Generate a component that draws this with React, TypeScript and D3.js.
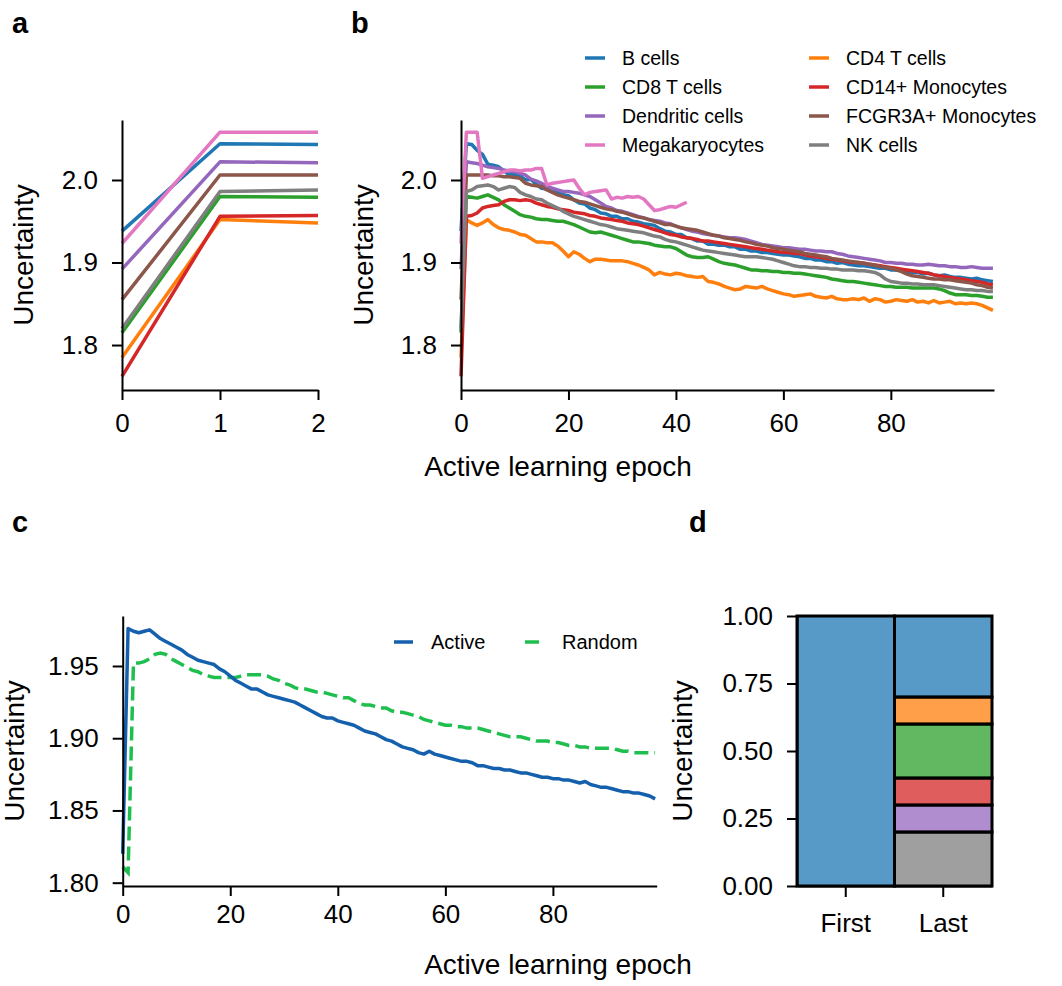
import React, { useEffect, useRef } from 'react';
import * as d3 from 'd3';

const FONT = 'Liberation Sans, Arial, Helvetica, sans-serif';

// cell types, in plotting order, with their tab10 colours
const cellTypes = ['B cells', 'CD4 T cells', 'CD8 T cells', 'CD14+ Monocytes', 'Dendritic cells', 'FCGR3A+ Monocytes', 'Megakaryocytes', 'NK cells'];
const cellColors = ['#1f77b4', '#ff7f0e', '#2ca02c', '#d62728', '#9467bd', '#8c564b', '#e377c2', '#7f7f7f'];

// uncertainty per active learning epoch (panel b; panel a shows epochs 0-2)
const bCells = [
  1.938, 2.044, 2.043, 2.036, 2.031, 2.019, 2.018, 2.016, 2.011, 2.006,
  2.007, 2.005, 2.000, 2.001, 1.995, 1.990, 1.989, 1.986, 1.985, 1.982,
  1.981, 1.976, 1.972, 1.971, 1.966, 1.964, 1.960, 1.959, 1.956, 1.956,
  1.953, 1.953, 1.950, 1.949, 1.947, 1.946, 1.945, 1.941, 1.938, 1.937,
  1.934, 1.934, 1.930, 1.929, 1.926, 1.926, 1.922, 1.922, 1.921, 1.921,
  1.919, 1.919, 1.916, 1.916, 1.914, 1.914, 1.912, 1.912, 1.911, 1.910,
  1.909, 1.909, 1.908, 1.907, 1.905, 1.905, 1.903, 1.903, 1.901, 1.901,
  1.899, 1.900, 1.898, 1.897, 1.896, 1.896, 1.895, 1.894, 1.893, 1.893,
  1.891, 1.891, 1.890, 1.889, 1.888, 1.888, 1.886, 1.887, 1.885, 1.884,
  1.885, 1.883, 1.882, 1.882, 1.881, 1.880, 1.881, 1.879, 1.878, 1.877,
];
const cd4TCells = [
  1.785, 1.952, 1.948, 1.945, 1.948, 1.952, 1.946, 1.942, 1.940, 1.939,
  1.937, 1.934, 1.933, 1.929, 1.925, 1.925, 1.924, 1.924, 1.920, 1.914,
  1.907, 1.913, 1.910, 1.905, 1.901, 1.904, 1.904, 1.903, 1.902, 1.902,
  1.902, 1.901, 1.899, 1.897, 1.894, 1.891, 1.885, 1.888, 1.886, 1.885,
  1.887, 1.886, 1.884, 1.883, 1.882, 1.883, 1.877, 1.876, 1.874, 1.871,
  1.869, 1.867, 1.868, 1.871, 1.870, 1.869, 1.871, 1.868, 1.866, 1.864,
  1.862, 1.861, 1.859, 1.860, 1.861, 1.862, 1.859, 1.858, 1.857, 1.859,
  1.856, 1.855, 1.855, 1.856, 1.855, 1.857, 1.853, 1.856, 1.855, 1.852,
  1.853, 1.855, 1.854, 1.853, 1.855, 1.852, 1.853, 1.851, 1.854, 1.851,
  1.852, 1.853, 1.850, 1.851, 1.850, 1.851, 1.850, 1.848, 1.845, 1.842,
];
const cd8TCells = [
  1.815, 1.980, 1.979, 1.978, 1.980, 1.982, 1.979, 1.976, 1.970, 1.966,
  1.962, 1.958, 1.956, 1.955, 1.953, 1.952, 1.952, 1.951, 1.950, 1.950,
  1.948, 1.946, 1.943, 1.940, 1.937, 1.936, 1.937, 1.935, 1.933, 1.931,
  1.929, 1.927, 1.925, 1.925, 1.924, 1.923, 1.921, 1.920, 1.919, 1.919,
  1.917, 1.913, 1.909, 1.907, 1.906, 1.906, 1.907, 1.904, 1.901, 1.899,
  1.898, 1.897, 1.895, 1.893, 1.891, 1.891, 1.890, 1.890, 1.889, 1.889,
  1.888, 1.888, 1.887, 1.887, 1.886, 1.885, 1.884, 1.883, 1.882, 1.880,
  1.879, 1.878, 1.877, 1.877, 1.876, 1.875, 1.874, 1.873, 1.872, 1.871,
  1.871, 1.870, 1.870, 1.870, 1.869, 1.869, 1.869, 1.869, 1.869, 1.868,
  1.866, 1.863, 1.861, 1.861, 1.861, 1.860, 1.860, 1.859, 1.858, 1.858,
];
const cd14Monocytes = [
  1.762, 1.956, 1.957, 1.960, 1.966, 1.968, 1.969, 1.970, 1.974, 1.976,
  1.976, 1.975, 1.976, 1.975, 1.972, 1.970, 1.968, 1.967, 1.965, 1.964,
  1.963, 1.961, 1.960, 1.959, 1.957, 1.956, 1.954, 1.953, 1.952, 1.951,
  1.950, 1.948, 1.947, 1.946, 1.944, 1.942, 1.940, 1.938, 1.936, 1.934,
  1.933, 1.931, 1.930, 1.929, 1.928, 1.926, 1.926, 1.925, 1.924, 1.923,
  1.922, 1.921, 1.920, 1.919, 1.918, 1.917, 1.916, 1.915, 1.914, 1.913,
  1.912, 1.912, 1.911, 1.911, 1.909, 1.908, 1.907, 1.906, 1.905, 1.904,
  1.903, 1.902, 1.901, 1.900, 1.900, 1.899, 1.898, 1.897, 1.896, 1.895,
  1.894, 1.893, 1.892, 1.891, 1.890, 1.889, 1.888, 1.887, 1.885, 1.884,
  1.883, 1.882, 1.881, 1.880, 1.879, 1.878, 1.877, 1.876, 1.874, 1.873,
];
const dendriticCells = [
  1.892, 2.022, 2.021, 2.020, 2.018, 2.016, 2.015, 2.014, 2.012, 2.011,
  2.010, 2.008, 2.006, 2.001, 1.999, 1.996, 1.992, 1.990, 1.988, 1.986,
  1.986, 1.985, 1.984, 1.982, 1.980, 1.976, 1.972, 1.968, 1.966, 1.963,
  1.962, 1.960, 1.958, 1.956, 1.954, 1.952, 1.951, 1.950, 1.948, 1.947,
  1.944, 1.942, 1.940, 1.938, 1.937, 1.935, 1.934, 1.933, 1.932, 1.931,
  1.930, 1.930, 1.929, 1.928, 1.926, 1.924, 1.922, 1.921, 1.920, 1.919,
  1.918, 1.918, 1.917, 1.916, 1.916, 1.915, 1.914, 1.914, 1.913, 1.913,
  1.911, 1.910, 1.908, 1.907, 1.906, 1.905, 1.904, 1.903, 1.902, 1.900,
  1.900, 1.899, 1.899, 1.898, 1.898, 1.897, 1.897, 1.898, 1.897, 1.896,
  1.896, 1.895, 1.895, 1.894, 1.894, 1.895, 1.894, 1.893, 1.893, 1.893,
];
const fcgr3aMonocytes = [
  1.855, 2.006, 2.006, 2.006, 2.006, 2.006, 2.005, 2.005, 2.004, 2.004,
  2.003, 2.002, 1.996, 1.994, 1.993, 1.992, 1.988, 1.985, 1.982, 1.980,
  1.978, 1.976, 1.974, 1.973, 1.971, 1.969, 1.967, 1.965, 1.964, 1.962,
  1.961, 1.959, 1.957, 1.955, 1.954, 1.952, 1.950, 1.948, 1.946, 1.946,
  1.944, 1.942, 1.941, 1.940, 1.939, 1.937, 1.935, 1.933, 1.932, 1.930,
  1.929, 1.928, 1.927, 1.925, 1.924, 1.922, 1.921, 1.920, 1.918, 1.917,
  1.916, 1.915, 1.914, 1.913, 1.911, 1.910, 1.909, 1.908, 1.907, 1.905,
  1.904, 1.903, 1.902, 1.901, 1.900, 1.899, 1.898, 1.897, 1.895, 1.894,
  1.893, 1.891, 1.889, 1.886, 1.884, 1.883, 1.882, 1.881, 1.880, 1.880,
  1.879, 1.879, 1.878, 1.877, 1.876, 1.875, 1.873, 1.872, 1.870, 1.869,
];
const megakaryocytes = [
  1.923, 2.058, 2.058, 2.058, 2.002, 2.004, 2.006, 2.008, 2.010, 2.012,
  2.012, 2.011, 2.012, 2.012, 2.014, 2.014, 1.994, 1.996, 1.997, 1.998,
  1.999, 2.000, 1.990, 1.982, 1.985, 1.986, 1.987, 1.988, 1.977, 1.979,
  1.978, 1.980, 1.979, 1.980, 1.977, 1.970, 1.963, 1.964, 1.966, 1.968,
  1.967, 1.970, 1.973,
];
const nkCells = [
  1.820, 1.986, 1.988, 1.992, 1.993, 1.994, 1.992, 1.988, 1.990, 1.992,
  1.991, 1.985, 1.982, 1.980, 1.977, 1.976, 1.972, 1.969, 1.966, 1.962,
  1.959, 1.956, 1.954, 1.952, 1.950, 1.948, 1.946, 1.945, 1.943, 1.941,
  1.940, 1.939, 1.938, 1.937, 1.936, 1.934, 1.932, 1.931, 1.928, 1.926,
  1.925, 1.923, 1.921, 1.919, 1.917, 1.915, 1.914, 1.913, 1.912, 1.911,
  1.910, 1.909, 1.908, 1.907, 1.907, 1.907, 1.906, 1.905, 1.904, 1.902,
  1.900, 1.898, 1.896, 1.895, 1.895, 1.894, 1.894, 1.893, 1.893, 1.892,
  1.892, 1.891, 1.891, 1.891, 1.890, 1.890, 1.889, 1.888, 1.885, 1.880,
  1.877, 1.876, 1.875, 1.875, 1.874, 1.874, 1.873, 1.873, 1.873, 1.872,
  1.871, 1.870, 1.869, 1.868, 1.867, 1.867, 1.866, 1.866, 1.865, 1.865,
];
const cellSeries = [bCells, cd4TCells, cd8TCells, cd14Monocytes, dendriticCells, fcgr3aMonocytes, megakaryocytes, nkCells];

// legend layout of panel b (indices into cellTypes)
const legendColumns = [[0, 2, 4, 6], [1, 3, 5, 7]];

// panel c: mean uncertainty, active vs random selection
const activeUncertainty = [
  1.820, 1.976, 1.974, 1.973, 1.974, 1.975, 1.972, 1.969, 1.967, 1.965,
  1.963, 1.961, 1.958, 1.956, 1.954, 1.953, 1.952, 1.951, 1.948, 1.946,
  1.943, 1.940, 1.938, 1.936, 1.934, 1.934, 1.932, 1.930, 1.929, 1.928,
  1.927, 1.926, 1.925, 1.923, 1.921, 1.919, 1.917, 1.915, 1.914, 1.914,
  1.912, 1.911, 1.910, 1.909, 1.907, 1.905, 1.904, 1.903, 1.901, 1.899,
  1.898, 1.896, 1.894, 1.893, 1.892, 1.890, 1.889, 1.891, 1.889, 1.888,
  1.887, 1.886, 1.885, 1.884, 1.884, 1.883, 1.881, 1.881, 1.880, 1.879,
  1.879, 1.878, 1.878, 1.877, 1.876, 1.876, 1.875, 1.874, 1.873, 1.873,
  1.872, 1.872, 1.871, 1.871, 1.870, 1.869, 1.870, 1.868, 1.867, 1.866,
  1.866, 1.865, 1.864, 1.863, 1.863, 1.862, 1.862, 1.861, 1.860, 1.858,
];
const randomUncertainty = [
  1.811, 1.807, 1.952, 1.952, 1.953, 1.955, 1.958, 1.959, 1.958, 1.955,
  1.953, 1.951, 1.949, 1.947, 1.946, 1.944, 1.943, 1.942, 1.942, 1.942,
  1.942, 1.942, 1.943, 1.944, 1.944, 1.944, 1.944, 1.943, 1.941, 1.940,
  1.938, 1.937, 1.935, 1.934, 1.934, 1.933, 1.932, 1.932, 1.931, 1.930,
  1.929, 1.928, 1.928, 1.926, 1.924, 1.923, 1.923, 1.922, 1.921, 1.921,
  1.919, 1.918, 1.918, 1.917, 1.916, 1.915, 1.913, 1.912, 1.911, 1.910,
  1.909, 1.909, 1.908, 1.908, 1.907, 1.907, 1.907, 1.906, 1.905, 1.904,
  1.903, 1.902, 1.901, 1.901, 1.901, 1.900, 1.899, 1.898, 1.898, 1.898,
  1.897, 1.897, 1.896, 1.895, 1.895, 1.894, 1.894, 1.893, 1.893, 1.893,
  1.893, 1.893, 1.892, 1.891, 1.891, 1.890, 1.890, 1.890, 1.890, 1.890,
];

// panel d: share of each cell type, first vs last epoch (bottom to top)
const stackBars = ['First', 'Last'];
const firstTypes = ['B cells'];
const firstShares = [1.0];
const lastTypes = ['NK cells', 'Dendritic cells', 'CD14+ Monocytes', 'CD8 T cells', 'CD4 T cells', 'B cells'];
const lastShares = [0.2, 0.1, 0.1, 0.2, 0.1, 0.3];

const App = () => {
    const ref = useRef(null);

    useEffect(() => {
        document.body.style.margin = '0';
        drawChart();
    }, []);

    const styleAxis = (g) => {
        g.selectAll('.domain').attr('stroke', '#000').attr('stroke-width', 2);
        g.selectAll('.tick line').attr('stroke', '#000').attr('stroke-width', 2);
        g.selectAll('.tick text')
            .attr('font-size', 26)
            .attr('font-family', FONT)
            .attr('fill', '#000');
    };

    const yLabel = (svg, x, y, text) => {
        svg.append('text')
            .attr('transform', `translate(${x},${y}) rotate(-90)`)
            .attr('text-anchor', 'middle')
            .attr('font-size', 28)
            .attr('font-family', FONT)
            .text(text);
    };

    const xLabel = (svg, x, y, text) => {
        svg.append('text')
            .attr('x', x).attr('y', y)
            .attr('text-anchor', 'middle')
            .attr('font-size', 28)
            .attr('font-family', FONT)
            .text(text);
    };

    const panelLetter = (svg, x, y, text) => {
        svg.append('text')
            .attr('x', x).attr('y', y)
            .attr('font-size', 29)
            .attr('font-weight', 'bold')
            .attr('font-family', FONT)
            .text(text);
    };

    const drawChart = () => {
        const svg = d3.select(ref.current);
        svg.selectAll('*').remove();

        // ---------- panel a ----------
        const xA = d3.scaleLinear().domain([0, 2]).range([122, 318]);
        const yA = d3.scaleLinear().domain([1.7455, 2.0727]).range([390, 120]);
        const lineA = d3.line().x((d, i) => xA(i)).y(d => yA(d));
        const gA = svg.append('g');
        cellSeries.forEach((s, k) => {
            gA.append('path')
                .attr('d', lineA(s.slice(0, 3)))
                .attr('fill', 'none')
                .attr('stroke', cellColors[k])
                .attr('stroke-width', 3.5)
                .attr('stroke-linejoin', 'round');
        });
        svg.append('g').attr('transform', 'translate(0,390)')
            .call(d3.axisBottom(xA).tickValues([0, 1, 2]).tickFormat(d3.format('d')).tickSize(10).tickSizeOuter(0).tickPadding(14))
            .call(styleAxis);
        svg.append('g').attr('transform', 'translate(122,0)')
            .call(d3.axisLeft(yA).tickValues([1.8, 1.9, 2.0]).tickFormat(d3.format('.1f')).tickSize(10).tickSizeOuter(0).tickPadding(14))
            .call(styleAxis);
        yLabel(svg, 33, 255, 'Uncertainty');
        panelLetter(svg, 12, 33, 'a');

        // ---------- panel b ----------
        const xB = d3.scaleLinear().domain([0, 99.2]).range([461, 994]);
        const yB = d3.scaleLinear().domain([1.7455, 2.0727]).range([390, 120]);
        const lineB = d3.line().x((d, i) => xB(i)).y(d => yB(d));
        const gB = svg.append('g');
        cellSeries.forEach((s, k) => {
            gB.append('path')
                .attr('d', lineB(s))
                .attr('fill', 'none')
                .attr('stroke', cellColors[k])
                .attr('stroke-width', 3.5)
                .attr('stroke-linejoin', 'round');
        });
        svg.append('g').attr('transform', 'translate(0,390)')
            .call(d3.axisBottom(xB).tickValues([0, 20, 40, 60, 80]).tickSize(10).tickSizeOuter(0).tickPadding(14))
            .call(styleAxis);
        svg.append('g').attr('transform', 'translate(461,0)')
            .call(d3.axisLeft(yB).tickValues([1.8, 1.9, 2.0]).tickFormat(d3.format('.1f')).tickSize(10).tickSizeOuter(0).tickPadding(14))
            .call(styleAxis);
        yLabel(svg, 373, 255, 'Uncertainty');
        xLabel(svg, 558, 476, 'Active learning epoch');
        panelLetter(svg, 351, 33, 'b');

        const legB = svg.append('g');
        legendColumns.forEach((col, c) => {
            col.forEach((k, r) => {
                const x0 = c === 0 ? 585 : 809;
                const y0 = 58 + r * 29;
                legB.append('line')
                    .attr('x1', x0).attr('x2', x0 + 20)
                    .attr('y1', y0).attr('y2', y0)
                    .attr('stroke', cellColors[k]).attr('stroke-width', 3.5);
                legB.append('text')
                    .attr('x', x0 + 37).attr('y', y0).attr('dy', '0.35em')
                    .attr('font-size', 19.5).attr('font-family', FONT)
                    .text(cellTypes[k]);
            });
        });

        // ---------- panel c ----------
        const xC = d3.scaleLinear().domain([0, 99.3]).range([122.7, 656.7]);
        const yC = d3.scaleLinear().domain([1.7977, 1.9846]).range([886, 616]);
        const lineC = d3.line().x((d, i) => xC(i)).y(d => yC(d));
        svg.append('path')
            .attr('d', lineC(randomUncertainty))
            .attr('fill', 'none').attr('stroke', '#1fbf4f').attr('stroke-width', 3.5)
            .attr('stroke-dasharray', '14,6');
        svg.append('path')
            .attr('d', lineC(activeUncertainty))
            .attr('fill', 'none').attr('stroke', '#1560ad').attr('stroke-width', 3.5)
            .attr('stroke-linejoin', 'round');
        svg.append('g').attr('transform', 'translate(0,886)')
            .call(d3.axisBottom(xC).tickValues([0, 20, 40, 60, 80]).tickSize(10).tickSizeOuter(0).tickPadding(9))
            .call(styleAxis);
        svg.append('g').attr('transform', 'translate(122.7,0)')
            .call(d3.axisLeft(yC).tickValues([1.8, 1.85, 1.9, 1.95]).tickFormat(d3.format('.2f')).tickSize(10).tickSizeOuter(0).tickPadding(14))
            .call(styleAxis);
        yLabel(svg, 24, 751, 'Uncertainty');
        xLabel(svg, 558, 974, 'Active learning epoch');
        panelLetter(svg, 12, 532, 'c');

        const legC = [
            { label: 'Active', color: '#1560ad', dash: null, x: 394 },
            { label: 'Random', color: '#1fbf4f', dash: '14,6', x: 525 },
        ];
        legC.forEach(l => {
            svg.append('line')
                .attr('x1', l.x).attr('x2', l.x + 19)
                .attr('y1', 642).attr('y2', 642)
                .attr('stroke', l.color).attr('stroke-width', 3.5)
                .attr('stroke-dasharray', l.dash);
            svg.append('text')
                .attr('x', l.x + 37).attr('y', 642).attr('dy', '0.35em')
                .attr('font-size', 20).attr('font-family', FONT)
                .text(l.label);
        });

        // ---------- panel d ----------
        const xD = d3.scaleBand().domain(stackBars).range([797, 992]).padding(0);
        const yD = d3.scaleLinear().domain([0, 1]).range([886, 616]);
        const stacks = [
            { bar: 'First', types: firstTypes, shares: firstShares },
            { bar: 'Last', types: lastTypes, shares: lastShares },
        ];
        stacks.forEach(st => {
            const tops = d3.cumsum(st.shares);
            st.types.forEach((t, i) => {
                const lo = i === 0 ? 0 : tops[i - 1];
                const hi = tops[i];
                svg.append('rect')
                    .attr('x', xD(st.bar))
                    .attr('width', xD.bandwidth())
                    .attr('y', yD(hi))
                    .attr('height', yD(lo) - yD(hi))
                    .attr('fill', cellColors[cellTypes.indexOf(t)])
                    .attr('fill-opacity', 0.75)
                    .attr('stroke', '#000')
                    .attr('stroke-width', 3);
            });
        });
        svg.append('g').attr('transform', 'translate(0,886)')
            .call(d3.axisBottom(xD).tickSize(11).tickSizeOuter(0).tickPadding(17))
            .call(styleAxis);
        svg.append('g').attr('transform', 'translate(797,0)')
            .call(d3.axisLeft(yD).tickValues([0, 0.25, 0.5, 0.75, 1.0]).tickFormat(d3.format('.2f')).tickSize(10).tickSizeOuter(0).tickPadding(14))
            .call(styleAxis);
        yLabel(svg, 692, 751, 'Uncertainty');
        panelLetter(svg, 689, 532, 'd');
    };

    return (
        <svg ref={ref} width={1062} height={986}
            style={{ position: 'absolute', left: 0, top: 0, background: '#fff' }} />
    );
};

export default App;
